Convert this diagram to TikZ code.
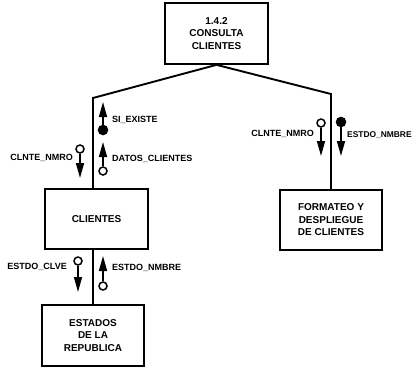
\documentclass[tikz,border=0pt]{standalone}
\usepackage{fontspec}
\setmainfont{Liberation Sans}
\usetikzlibrary{arrows.meta}
\begin{document}
\begin{tikzpicture}[x=1pt,y=-1pt,
  proc/.style={draw,line width=1.7pt,align=center,font=\bfseries\fontsize{10}{12.5}\selectfont,inner sep=0pt},
  link/.style={line width=1.9pt},
  flow/.style={line width=1.6pt,-{Triangle[length=15pt,width=8pt]}},
  dataend/.style={circle,draw,line width=1.5pt,fill=white,minimum size=8pt,inner sep=0pt},
  ctrlend/.style={circle,draw,line width=1.5pt,fill=black,minimum size=9pt,inner sep=0pt},
  lbl/.style={font=\bfseries\fontsize{9}{10}\selectfont,inner sep=0pt}]
\useasboundingbox (0,0) rectangle (412,369);

% process boxes
\node[proc,minimum width=103pt,minimum height=61pt] (top) at (216.5,33.5) {1.4.2\\CONSULTA\\CLIENTES};
\node[proc,minimum width=103pt,minimum height=60pt] (cli) at (96.5,219) {CLIENTES};
\node[proc,minimum width=102pt,minimum height=60pt] (fmt) at (331,220) {FORMATEO Y\\DESPLIEGUE\\DE CLIENTES};
\node[proc,minimum width=102pt,minimum height=61pt] (est) at (93,335.5) {ESTADOS\\DE LA\\REPUBLICA};

% structure chart links
\coordinate (cl) at (93,98);
\coordinate (cr) at (331,94);
\draw[link,line join=miter] (top.south) -- (cl) -- (cl |- cli.north);
\draw[link,line join=miter] (top.south) -- (cr) -- (fmt.north);
\draw[link] (est.north |- cli.south) -- (est.north);

% couples
\node[ctrlend] (c1) at (103,130) {};
\coordinate (t1) at (103,102);
\draw[flow] (c1) -- (t1);
\node[lbl,anchor=west] (l1) at (112,120) {SI\_EXISTE};

\node[dataend] (c2) at (103,171) {};
\coordinate (t2) at (103,142);
\draw[flow] (c2) -- (t2);
\node[lbl,anchor=west] (l2) at (112,159) {DATOS\_CLIENTES};

\node[dataend] (c3) at (80,149) {};
\coordinate (t3) at (80,178);
\draw[flow] (c3) -- (t3);
\node[lbl,anchor=east] (l3) at (73,158) {CLNTE\_NMRO};

\node[dataend] (c4) at (321,123) {};
\coordinate (t4) at (321,156);
\draw[flow] (c4) -- (t4);
\node[lbl,anchor=east] (l4) at (314,134) {CLNTE\_NMRO};

\node[ctrlend] (c5) at (341,122) {};
\coordinate (t5) at (341,156);
\draw[flow] (c5) -- (t5);
\node[lbl,anchor=west,font=\bfseries\fontsize{8.4}{10}\selectfont] (l5) at (347,135) {ESTDO\_NMBRE};

\node[dataend] (c6) at (78,261) {};
\coordinate (t6) at (78,292);
\draw[flow] (c6) -- (t6);
\node[lbl,anchor=east] (l6) at (67,267) {ESTDO\_CLVE};

\node[dataend] (c7) at (103,286) {};
\coordinate (t7) at (103,256);
\draw[flow] (c7) -- (t7);
\node[lbl,anchor=west] (l7) at (112,268) {ESTDO\_NMBRE};
\end{tikzpicture}
\end{document}
